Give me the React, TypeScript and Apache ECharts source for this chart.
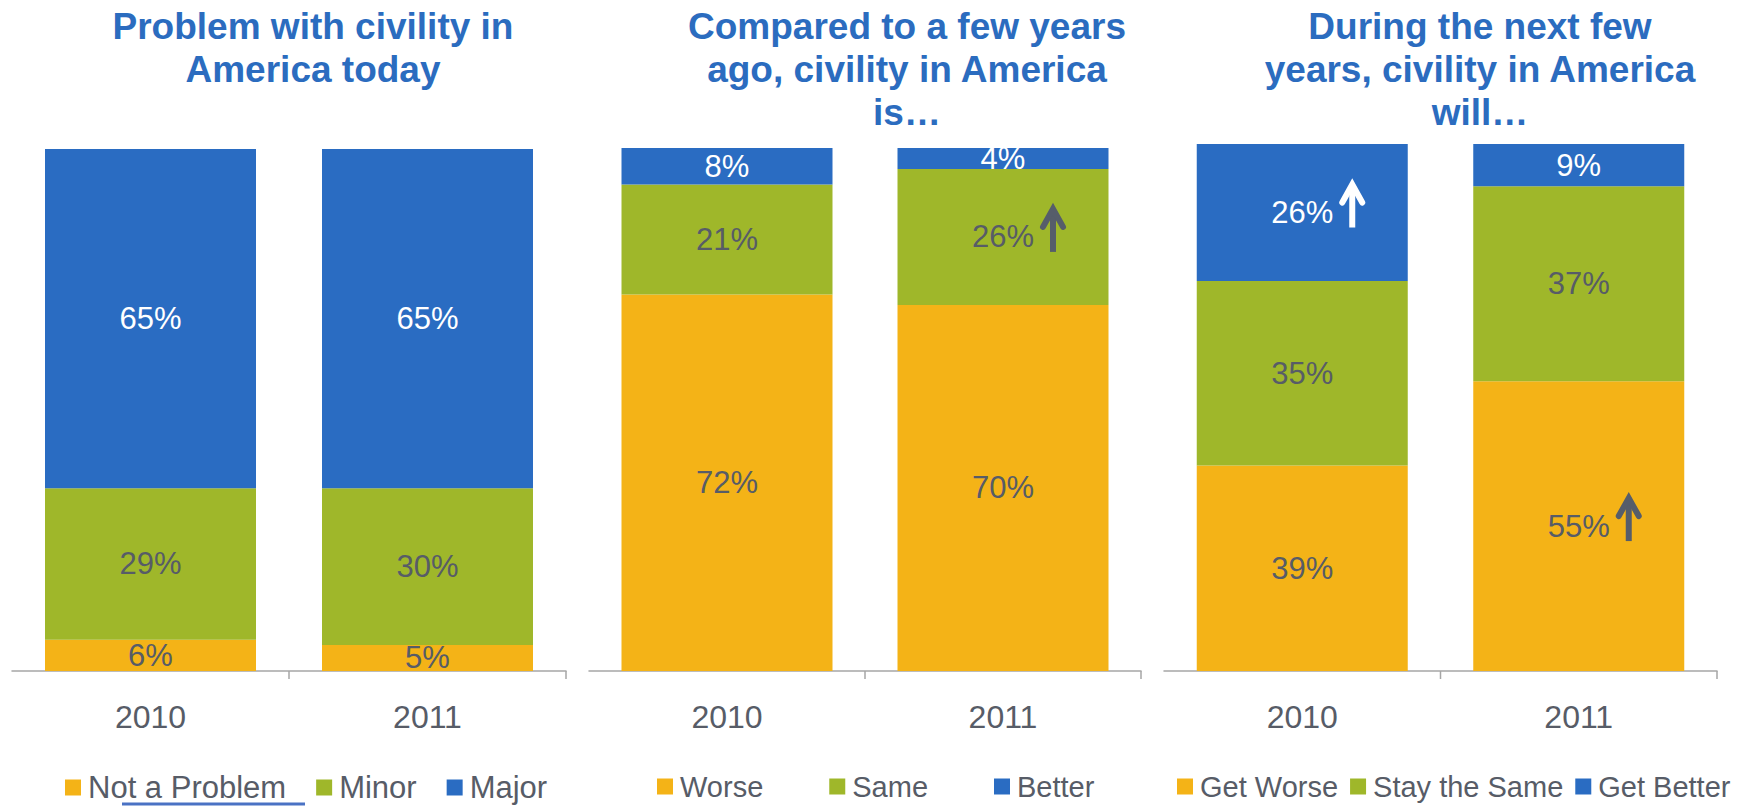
import React, { useEffect, useRef } from 'react';
import * as echarts from 'echarts';

const years = ['2010', '2011'];

const problemNames = ['Not a Problem', 'Minor', 'Major'];
const notAProblem = [6, 5];
const minorProblem = [29, 30];
const majorProblem = [65, 65];

const comparedNames = ['Worse', 'Same', 'Better'];
const worse = [72, 70];
const same = [21, 26];
const better = [8, 4];

const futureNames = ['Get Worse', 'Stay the Same', 'Get Better'];
const getWorse = [39, 55];
const stayTheSame = [35, 37];
const getBetter = [26, 9];

const panelTitles = [
  'Problem with civility in\nAmerica today',
  'Compared to a few years\nago, civility in America\nis…',
  'During the next few\nyears, civility in America\nwill…',
];

// [panel index, category index, series index, arrow colour key]
const arrowMarks: [number, number, number, string][] = [
  [1, 1, 1, 'dark'],
  [2, 0, 2, 'light'],
  [2, 1, 0, 'dark'],
];

const FONT = '"Liberation Sans", Arial, Helvetica, sans-serif';
const ORANGE = '#f4b317';
const GREEN = '#9fb72a';
const BLUE = '#2a6cc2';
const TEXT_DARK = '#575c67';
const TITLE_BLUE = '#2b6cbf';
const AXIS_GREY = '#a6a6a6';

const panelNames = [problemNames, comparedNames, futureNames];
const panelValues = [
  [notAProblem, minorProblem, majorProblem],
  [worse, same, better],
  [getWorse, stayTheSame, getBetter],
];
const seriesColors = [ORANGE, GREEN, BLUE];
const labelColors = [TEXT_DARK, TEXT_DARK, '#ffffff'];

const layout = [
  { left: 12, width: 554, top: 149, height: 522, titleX: 313, legendLeft: 65, legendGap: 30, legendFont: 31 },
  { left: 589, width: 552, top: 148, height: 523, titleX: 907, legendLeft: 657, legendGap: 66, legendFont: 29 },
  { left: 1164, width: 553, top: 144, height: 527, titleX: 1480, legendLeft: 1177, legendGap: 12, legendFont: 29 },
];

export default function App() {
  const ref = useRef<HTMLDivElement>(null);

  useEffect(() => {
    if (!ref.current) return;
    const chart = echarts.init(ref.current, null, { renderer: 'svg' });

    const grid = layout.map((l) => ({ left: l.left, top: l.top, width: l.width, height: l.height }));
    const xAxis = layout.map((_, p) => ({
      type: 'category',
      gridIndex: p,
      data: years,
      boundaryGap: true,
      axisLine: { show: true, lineStyle: { color: AXIS_GREY, width: 1.5 } },
      axisTick: { show: false },
      axisLabel: { fontSize: 32, color: TEXT_DARK, fontFamily: FONT, margin: 30 },
    }));
    const yAxis = layout.map((_, p) => ({
      type: 'value',
      gridIndex: p,
      min: 0,
      max: 100,
      show: false,
      splitLine: { show: false },
    }));

    const series: any[] = [];
    panelNames.forEach((names, p) => {
      names.forEach((name, k) => {
        series.push({
          type: 'bar',
          name,
          xAxisIndex: p,
          yAxisIndex: p,
          stack: 'panel' + p,
          data: panelValues[p][k],
          barWidth: 211,
          clip: true,
          itemStyle: { color: seriesColors[k] },
          label: {
            show: true,
            position: 'inside',
            formatter: '{c}%',
            fontSize: 31,
            fontFamily: FONT,
            color: labelColors[k],
          },
        });
      });
    });

    const legend = layout.map((l, p) => ({
      data: panelNames[p],
      left: l.legendLeft,
      top: 772,
      orient: 'horizontal',
      padding: 0,
      itemWidth: 16,
      itemHeight: 16,
      itemGap: l.legendGap,
      icon: 'rect',
      selectedMode: false,
      textStyle: { fontSize: l.legendFont, color: TEXT_DARK, fontFamily: FONT, padding: [0, 0, 0, 2] },
    }));

    chart.setOption({
      animation: false,
      backgroundColor: '#ffffff',
      grid,
      xAxis,
      yAxis,
      legend,
      series,
    });

    const elements: any[] = [];

    layout.forEach((l, p) => {
      elements.push({
        type: 'text',
        x: l.titleX,
        y: 5,
        style: {
          text: panelTitles[p],
          align: 'center',
          verticalAlign: 'top',
          fontSize: 37,
          fontWeight: 'bold',
          fontFamily: FONT,
          lineHeight: 43,
          fill: TITLE_BLUE,
        },
      });
      const c0 = chart.convertToPixel({ gridIndex: p } as any, [0, 0]) as number[];
      const c1 = chart.convertToPixel({ gridIndex: p } as any, [1, 0]) as number[];
      const band = c1[0] - c0[0];
      const ticksX = [(c0[0] + c1[0]) / 2, c1[0] + band / 2];
      ticksX.forEach((tx) => {
        elements.push({
          type: 'line',
          shape: { x1: tx, y1: c0[1], x2: tx, y2: c0[1] + 8 },
          style: { stroke: AXIS_GREY, lineWidth: 1.5 },
        });
      });
    });

    arrowMarks.forEach(([p, cat, k, tone]) => {
      let base = 0;
      for (let j = 0; j < k; j++) base += panelValues[p][j][cat];
      const top = Math.min(100, base + panelValues[p][k][cat]);
      const mid = (base + top) / 2;
      const pt = chart.convertToPixel({ gridIndex: p } as any, [cat, mid]) as number[];
      const cx = pt[0] + 50;
      const tip = pt[1] - 33;
      const bottom = pt[1] + 15;
      const color = tone === 'light' ? '#ffffff' : '#565d6a';
      elements.push({
        type: 'line',
        z: 100,
        shape: { x1: cx, y1: bottom, x2: cx, y2: tip + 8 },
        style: { stroke: color, lineWidth: 6 },
      });
      elements.push({
        type: 'polyline',
        z: 100,
        shape: { points: [[cx - 10, tip + 23], [cx, tip + 5], [cx + 10, tip + 23]] },
        style: { stroke: color, lineWidth: 6, lineCap: 'round', lineJoin: 'miter', fill: 'none' },
      });
    });

    elements.push({
      type: 'line',
      shape: { x1: 122, y1: 804, x2: 305, y2: 804 },
      style: { stroke: '#4a72c4', lineWidth: 3 },
    });

    chart.setOption({ graphic: { elements } });

    return () => {
      chart.dispose();
    };
  }, []);

  return (
    <div
      ref={ref}
      style={{ position: 'fixed', left: 0, top: 0, width: 1741, height: 807, background: '#fff' }}
    />
  );
}
